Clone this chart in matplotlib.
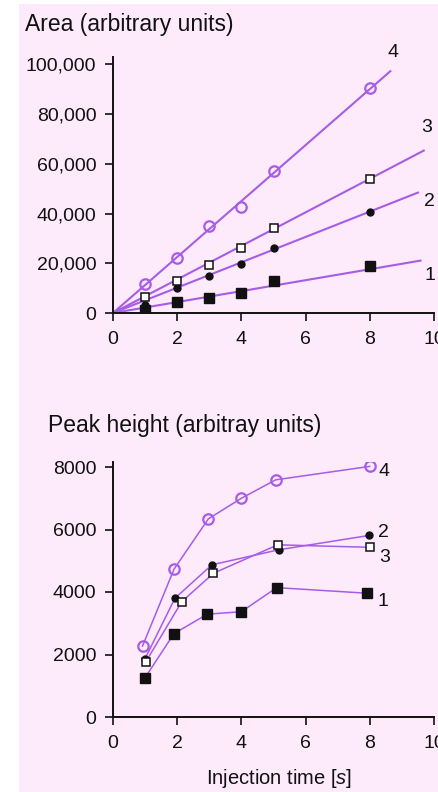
import matplotlib
matplotlib.use('Agg')
import matplotlib.pyplot as plt
from matplotlib.patches import Rectangle
from matplotlib.ticker import FuncFormatter

plt.rcParams['font.family'] = ['Liberation Sans', 'DejaVu Sans']
plt.rcParams['mathtext.fontset'] = 'custom'
plt.rcParams['mathtext.rm'] = 'Liberation Sans'
plt.rcParams['mathtext.it'] = 'Liberation Sans:italic'

# area vs injection time (top panel)
area_x = [1, 2, 3, 4, 5, 8]
area_1 = [1200, 4400, 6000, 8000, 12800, 18800]
area_2 = [3200, 10000, 15000, 19900, 26200, 40700]
area_3 = [6300, 12800, 19500, 26000, 34200, 54000]
area_4 = [11800, 22100, 34900, 42700, 57000, 90600]
# linear fits through origin: slope per second, end of fitted line
fit_slope = [2200, 5100, 6750, 11260]
fit_end = [9.58, 9.5, 9.68, 8.64]

# peak height vs injection time (bottom panel)
peak_x1 = [1.0, 1.9, 2.94, 4.0, 5.1, 7.92]
peak_1 = [1260, 2670, 3290, 3370, 4140, 3960]
peak_x2 = [1.0, 1.93, 3.08, 5.16, 7.98]
peak_2 = [1870, 3800, 4870, 5350, 5810]
peak_x3 = [1.02, 2.14, 3.13, 5.13, 8.0]
peak_3 = [1760, 3690, 4600, 5510, 5430]
peak_x4 = [0.92, 1.9, 2.97, 4.0, 5.07, 8.0]
peak_4 = [2270, 4730, 6340, 7000, 7590, 8020]

series_names = ['1', '2', '3', '4']

purple = '#a65ce6'
ink = '#111111'
pink = '#fdebfc'

fig = plt.figure(figsize=(4.39, 7.92), dpi=100)
fig.patches.append(Rectangle((19 / 439, 0), 1, 1 - 4 / 792, transform=fig.transFigure,
                             facecolor=pink, edgecolor='none', zorder=-10))

ax1 = fig.add_axes([113 / 439, 1 - 313 / 792, 321 / 439, 256 / 792])
ax2 = fig.add_axes([113 / 439, 1 - 717 / 792, 321 / 439, 255 / 792])

styles = [
    dict(marker='s', ms=6.5, mfc=ink, mec=ink),
    dict(marker='o', ms=5, mfc=ink, mec=ink),
    dict(marker='s', ms=6, mfc='white', mec=ink, mew=1.1),
    dict(marker='o', ms=7.5, mfc='none', mec=purple, mew=1.6),
]

# top panel
for vals, slope, xend, st in zip([area_1, area_2, area_3, area_4], fit_slope, fit_end, styles):
    ax1.plot([0, xend], [0, slope * xend], color=purple, lw=1.5, zorder=2)
    ax1.plot(area_x, vals, ls='none', zorder=3, **st)

top_label_pos = [(9.87, 14900), (9.87, 44700), (9.78, 74500), (8.72, 104700)]
for name, (lx, ly) in zip(series_names, top_label_pos):
    ax1.text(lx, ly, name, fontsize=14, color=ink, ha='center', va='center', clip_on=False)

ax1.set_xlim(0, 10)
ax1.set_ylim(0, 103000)
ax1.set_yticks([0, 20000, 40000, 60000, 80000, 100000])
ax1.yaxis.set_major_formatter(FuncFormatter(lambda v, p: '{:,.0f}'.format(v)))
fig.text(25 / 439, 1 - 25 / 792, 'Area (arbitrary units)', fontsize=16.5, color=ink,
         ha='left', va='center')

# bottom panel
peak_xs = [peak_x1, peak_x2, peak_x3, peak_x4]
peak_ys = [peak_1, peak_2, peak_3, peak_4]
for px, py, st in zip(peak_xs, peak_ys, styles):
    ax2.plot(px, py, color=purple, lw=1.1, zorder=2)
    ax2.plot(px, py, ls='none', zorder=3, **st)

bottom_label_pos = [(8.41, 3680), (8.44, 5890), (8.47, 5090), (8.44, 7840)]
for name, (lx, ly) in zip(series_names, bottom_label_pos):
    ax2.text(lx, ly, name, fontsize=14, color=ink, ha='center', va='center', clip_on=False)

ax2.set_xlim(0, 10)
ax2.set_ylim(0, 8160)
ax2.set_yticks([0, 2000, 4000, 6000, 8000])
fig.text(279 / 439, 1 - 779 / 792, 'Injection time [$s$]', fontsize=14.5, color=ink,
         ha='center', va='center')
fig.text(48 / 439, 1 - 425 / 792, 'Peak height (arbitray units)', fontsize=16.5, color=ink,
         ha='left', va='center')

for ax in (ax1, ax2):
    ax.set_facecolor('none')
    ax.spines['top'].set_visible(False)
    ax.spines['right'].set_visible(False)
    for s in ('left', 'bottom'):
        ax.spines[s].set_linewidth(1.4)
        ax.spines[s].set_color(ink)
    ax.set_xticks([0, 2, 4, 6, 8, 10])
    ax.tick_params(direction='out', length=6, width=1.2, colors=ink, labelsize=14, pad=6)
    ax.tick_params(axis='x', pad=7)

plt.savefig('out.png', dpi=100)
